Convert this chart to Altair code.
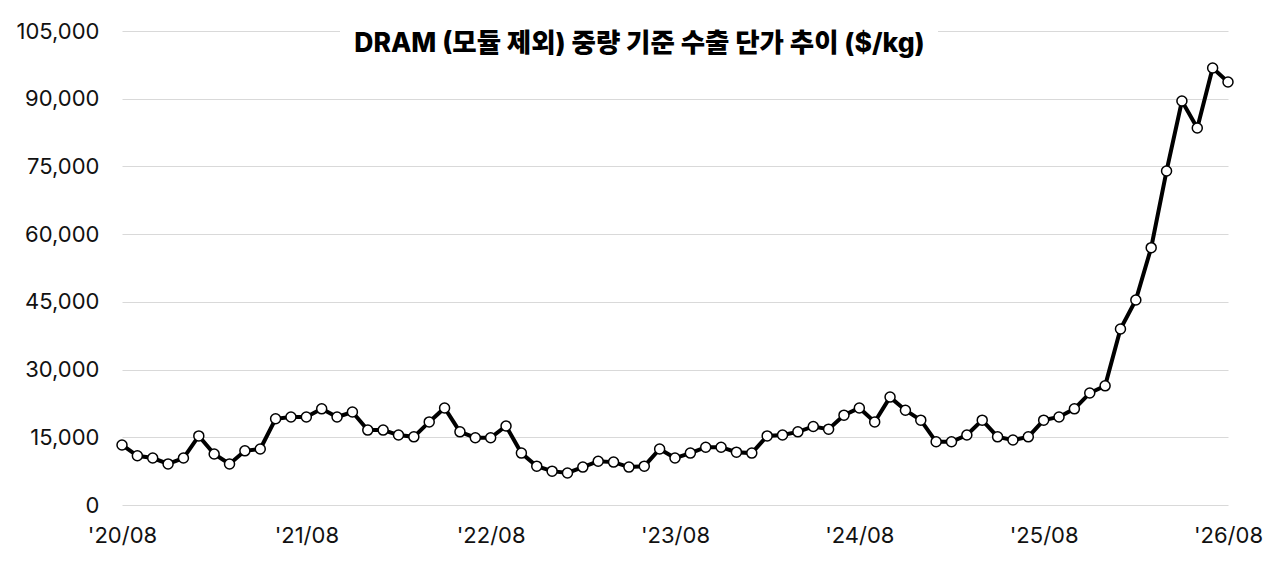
import altair as alt
import pandas as pd

# ---- data ----
title_text = "DRAM (모듈 제외) 중량 기준 수출 단가 추이 ($/kg)"

start_year = 20
start_month = 8
n_months = 73

values = [13300, 10900, 10400, 9100, 10400, 15300, 11300, 9100, 12000, 12400,
          19100, 19500, 19500, 21300, 19500, 20600, 16600, 16600, 15500, 15100,
          18400, 21500, 16200, 14900, 14900, 17500, 11500, 8600, 7500, 7100,
          8400, 9700, 9500, 8400, 8600, 12400, 10400, 11500, 12800, 12800,
          11700, 11500, 15300, 15500, 16200, 17400, 16800, 19900, 21500, 18400,
          23900, 21000, 18800, 14000, 14000, 15500, 18800, 15100, 14400, 15100,
          18800, 19500, 21300, 24800, 26400, 39000, 45400, 57000, 74000, 89500,
          83500, 96800, 93700]

y_ticks = [0, 15000, 30000, 45000, 60000, 75000, 90000, 105000]

months = []
for i in range(n_months):
    m = start_month - 1 + i
    y = start_year + m // 12
    months.append(f"'{y:02d}/{m % 12 + 1:02d}")

x_tick_labels = [months[i] for i in range(0, n_months, 12)]

df = pd.DataFrame({"month": months, "value": values})

FONT = "Inter"
TEXT_COLOR = "#111111"

x_enc = alt.X(
    "month:O", sort=None,
    scale=alt.Scale(padding=0),
    axis=alt.Axis(values=x_tick_labels, labelAngle=0, title=None,
                  domain=False, ticks=False, grid=False,
                  labelPadding=20, labelFontSize=22, labelFont=FONT,
                  labelColor=TEXT_COLOR, labelOverlap=False, labelFlush=False),
)
y_enc = alt.Y(
    "value:Q",
    scale=alt.Scale(domain=[0, 105000], nice=False, zero=True),
    axis=alt.Axis(values=y_ticks, format=",.0f", title=None,
                  domain=False, ticks=False, grid=True,
                  gridColor="#d9d9d9", gridWidth=1.2,
                  labelPadding=23, labelFontSize=22, labelFont=FONT,
                  labelColor=TEXT_COLOR),
)

base = alt.Chart(df)

line = base.mark_line(color="black", strokeWidth=4).encode(x=x_enc, y=y_enc)
points = base.mark_point(filled=True, fill="white", stroke="black",
                         strokeWidth=1.5, size=100, opacity=1).encode(x=x_enc, y=y_enc)

title_df = pd.DataFrame({"t": [title_text]})
title_bg = alt.Chart(title_df).mark_rect(color="white").encode(
    x=alt.value(218), x2=alt.value(816), y=alt.value(-8), y2=alt.value(32))
title = alt.Chart(title_df).mark_text(
    font="Inter, 'Noto Sans CJK KR'", fontSize=26.5, fontWeight=800,
    color="black", align="center", baseline="alphabetic",
).encode(text="t:N", x=alt.value(517.5), y=alt.value(20.5))

chart = alt.layer(line, points, title_bg, title).properties(
    width=1106, height=474,
    autosize=alt.AutoSizeParams(type="none"),
    padding={"left": 114, "top": 23, "right": 44, "bottom": 54},
    background="white",
).configure_view(stroke=None)

chart.save("out.html", embed_options={"renderer": "svg", "actions": False})
